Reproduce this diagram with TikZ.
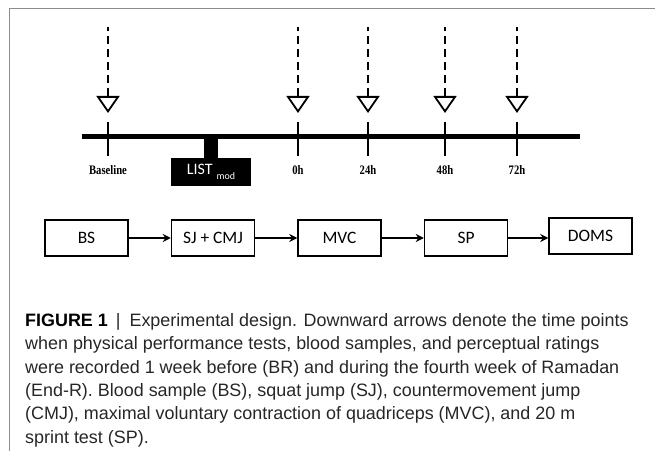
\documentclass[tikz,border=0pt]{standalone}
\usepackage{fontspec}
\setmainfont{Liberation Sans}
\newfontfamily\boxfont{Carlito}
\newfontfamily\tickfont[FakeStretch=0.82]{Liberation Serif}
\usetikzlibrary{arrows.meta,positioning}

\begin{document}
\begin{tikzpicture}[x=1bp,y=-1bp,every node/.style={inner sep=0pt},
    stepbox/.style={draw,line width=1.5bp,minimum width=83bp,minimum height=36bp,
      font=\boxfont\fontsize{17.5}{19}\selectfont},
    flow/.style={-{Stealth[length=8bp,width=8bp]},line width=1.6bp},
    probe/.style={line width=2.5bp,dash pattern=on 8bp off 5bp,
      {Triangle[open,length=17bp,width=23bp,line width=1.8bp]}-},
    tickmark/.style={line width=1.6bp},
    timelbl/.style={font=\tickfont\bfseries\fontsize{13}{14}\selectfont}]
  \useasboundingbox (0,0) rectangle (655,451);
  % frame of the figure panel
  \draw[black!45,line width=1bp] (655,9) -- (9,9) -- (9,451);

  % time line with the test points
  \draw[line width=5bp] (82,136.5) -- (580,136.5);
  \foreach \x/\t/\n in {108/Baseline/base,298/0h/h0,368/24h/h24,445/48h/h48,517/72h/h72}{
    \coordinate (\n) at (\x,136.5);
    \draw[tickmark] (\x,122) -- (\x,156);
    \node[timelbl] (\n-lbl) at (\x,170) {\t};
    \coordinate (\n-tip) at (\x,113);
    \coordinate (\n-top) at (\x,27);
    \draw[probe] (\n-tip) -- (\n-top);
  }

  % protocol block
  \node[fill=black,text=white,minimum width=80bp,minimum height=28bp,anchor=north]
    (list) at (211,158) {\boxfont\fontsize{16}{16}\selectfont LIST\hspace{4bp}\raisebox{-5bp}{\fontsize{10}{10}\selectfont mod}};
  \draw[line width=14bp] (list.north) -- (list.north |- base);

  % order of the tests
  \node[stepbox] (bs) at (86.5,238) {BS};
  \node[stepbox,right=42bp of bs] (jump) {SJ + CMJ};
  \node[stepbox,right=42bp of jump] (mvc) {MVC};
  \node[stepbox,right=42bp of mvc] (sp) {SP};
  \node[stepbox,right=40bp of sp,yshift=2bp] (doms) {DOMS};
  \draw[flow] (bs) -- (jump);
  \draw[flow] (jump) -- (mvc);
  \draw[flow] (mvc) -- (sp);
  \draw[flow] (sp.east) -- (sp.east -| doms.west);

  % caption
  \node[anchor=north west,align=left,text=black!85,font=\fontsize{18}{23.5}\selectfont]
    (cap) at (25,313) {{\bfseries\color{black}FIGURE 1}\hspace{8bp}|\hspace{9bp}Experimental design. Downward arrows denote the time points\\
    when physical performance tests, blood samples, and perceptual ratings\\
    were recorded 1 week before (BR) and during the fourth week of Ramadan\\
    (End-R). Blood sample (BS), squat jump (SJ), countermovement jump\\
    (CMJ), maximal voluntary contraction of quadriceps (MVC), and 20 m\\
    sprint test (SP).};
\end{tikzpicture}
\end{document}
